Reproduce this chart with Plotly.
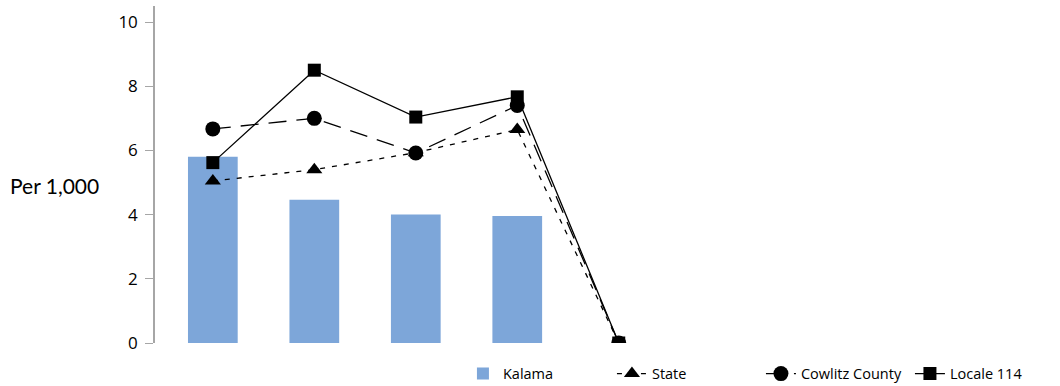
import plotly.graph_objects as go

# значения
x_pos = [0, 1, 2, 3, 4]
kalama = [5.8, 4.46, 4.0, 3.96, None]
state = [5.05, 5.4, 5.93, 6.65, 0]
cowlitz = [6.67, 7.0, 5.92, 7.4, 0]
locale_114 = [5.62, 8.5, 7.04, 7.67, 0]
y_ticks = [0, 2, 4, 6, 8, 10]

FONT = "Open Sans"

fig = go.Figure()

fig.add_trace(go.Bar(x=x_pos, y=kalama, name="Kalama", marker_color="#7da6d9",
                     marker_line_width=0, width=0.49))
fig.add_trace(go.Scatter(x=x_pos, y=state, name="State", mode="lines+markers",
                         line=dict(color="black", width=1.3, dash="5px,7px"),
                         marker=dict(symbol="triangle-up", size=14, color="black")))
fig.add_trace(go.Scatter(x=x_pos, y=cowlitz, name="Cowlitz County", mode="lines+markers",
                         line=dict(color="black", width=1.3, dash="18px,10px"),
                         marker=dict(symbol="circle", size=15, color="black")))
fig.add_trace(go.Scatter(x=x_pos, y=locale_114, name="Locale 114", mode="lines+markers",
                         line=dict(color="black", width=1.3),
                         marker=dict(symbol="square", size=13, color="black")))

fig.update_layout(
    width=1060, height=386,
    margin=dict(l=155, r=10, t=6, b=43, autoexpand=False),
    plot_bgcolor="white", paper_bgcolor="white",
    font=dict(family=FONT, color="black"),
    showlegend=True,
    legend=dict(orientation="h", xref="container", yref="container",
                xanchor="right", x=0.999, yanchor="middle", y=0.032,
                font=dict(size=14.5), traceorder="normal",
                entrywidth=104, entrywidthmode="pixels"),
    bargap=0.5,
)
fig.update_xaxes(range=[-0.57, 8.25], showticklabels=False, showgrid=False,
                 zeroline=False, showline=False, ticks="")
fig.update_yaxes(range=[0, 10.5], tickvals=y_ticks, showgrid=False, zeroline=False,
                 showline=True, linecolor="#a6a6a6", linewidth=1.5,
                 ticks="outside", ticklen=8, tickcolor="#a6a6a6",
                 tickfont=dict(size=17), ticklabelstandoff=4)

fig.add_annotation(text="Per 1,000", xref="paper", yref="paper", x=-0.164, y=0.466,
                   xanchor="left", yanchor="middle", showarrow=False,
                   font=dict(family="Lato", size=21))

fig.write_html("out.html", config={"displayModeBar": False},
               post_script="document.body.style.margin='0';")
